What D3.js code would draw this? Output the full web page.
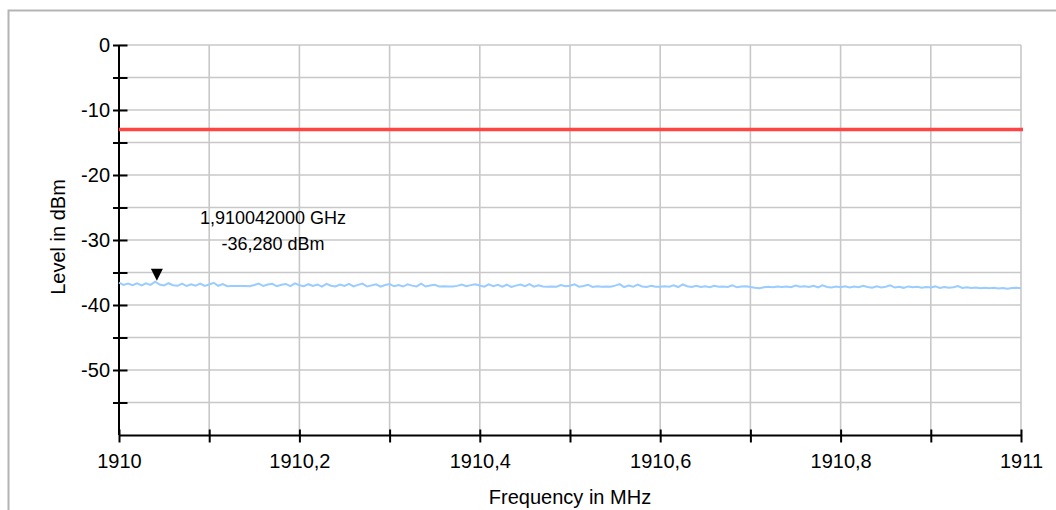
<!DOCTYPE html>
<html>
<head>
<meta charset="utf-8">
<script src="https://cdn.jsdelivr.net/npm/d3@7"></script>
<style>
  body { margin: 0; background: #fff; }
  svg { font-family: "Liberation Sans", Arial, sans-serif; }
</style>
</head>
<body>
<svg id="chart" width="1056" height="510"></svg>
<script>
// sweep 1910..1911 MHz, one reading every 5 kHz
const startFreq = 1910;
const stepFreq = 0.005;
const traceLevels = [
  -36.55, -36.90, -36.70, -36.95, -36.68, -36.98, -36.66, -36.90, -36.42, -36.85,
  -37.00, -36.65, -36.95, -37.05, -36.72, -37.08, -36.80, -37.02, -36.70, -37.06,
  -36.84, -36.58, -37.04, -36.78, -37.10, -37.06, -37.08, -37.09, -37.07, -37.10,
  -36.92, -36.70, -37.08, -36.86, -36.74, -37.12, -36.88, -36.76, -37.10, -36.68,
  -36.96, -37.12, -36.80, -37.06, -36.84, -37.16, -36.76, -37.04, -37.14, -36.86,
  -37.06, -36.74, -37.14, -36.90, -36.70, -37.16, -36.98, -36.82, -37.18, -36.92,
  -36.78, -37.12, -36.94, -37.16, -36.82, -37.02, -37.14, -36.72, -37.16, -37.00,
  -36.90, -37.14, -37.12, -37.15, -37.14, -37.06, -36.86, -37.12, -36.94, -36.80,
  -37.00, -37.18, -36.82, -37.10, -36.90, -37.18, -36.88, -37.22, -37.02, -36.86,
  -37.10, -36.78, -37.18, -36.96, -37.16, -37.20, -37.14, -37.18, -36.92, -37.12,
  -37.04, -36.82, -37.18, -37.08, -36.88, -37.22, -37.10, -37.18, -37.16, -37.20,
  -37.02, -36.78, -37.24, -37.00, -37.20, -36.86, -37.14, -37.24, -37.06, -37.20,
  -37.20, -37.10, -37.18, -36.98, -37.24, -36.84, -37.12, -37.22, -37.06, -37.24,
  -37.12, -37.26, -37.04, -37.20, -37.14, -37.24, -36.98, -37.28, -37.14, -37.10,
  -37.22, -37.34, -37.42, -37.28, -37.20, -37.26, -37.16, -37.24, -37.14, -37.26,
  -37.00, -37.20, -37.10, -37.24, -37.04, -37.28, -36.96, -37.22, -37.32, -37.16,
  -37.26, -37.12, -37.32, -37.16, -37.28, -37.04, -37.22, -37.34, -37.12, -37.30,
  -37.18, -36.98, -37.32, -37.20, -37.36, -37.14, -37.28, -37.20, -37.34, -37.24,
  -37.32, -37.14, -37.38, -37.22, -37.34, -37.28, -37.10, -37.38, -37.28, -37.40,
  -37.30, -37.42, -37.34, -37.44, -37.36, -37.46, -37.38, -37.48, -37.40, -37.36,
  -37.42
];
const limitLevel = -13;
const markerFreq = 1910.042;
const markerLevel = -36.28;
const markerLabels = ["1,910042000 GHz", "-36,280 dBm"];
const xTicks = [1910, 1910.1, 1910.2, 1910.3, 1910.4, 1910.5, 1910.6, 1910.7, 1910.8, 1910.9, 1911];
const xTickLabels = ["1910", "", "1910,2", "", "1910,4", "", "1910,6", "", "1910,8", "", "1911"];
const yTicks = [0, -5, -10, -15, -20, -25, -30, -35, -40, -45, -50, -55];
const yTickLabels = ["0", "", "-10", "", "-20", "", "-30", "", "-40", "", "-50", ""];

const svg = d3.select("#chart");
const x = d3.scaleLinear().domain([1910, 1911]).range([119, 1021]);
const y = d3.scaleLinear().domain([0, -60]).range([45, 435]);

// outer frame
svg.append("rect")
  .attr("x", 8.5).attr("y", 10.5)
  .attr("width", 1200).attr("height", 700)
  .attr("fill", "none").attr("stroke", "#b4b4b4").attr("stroke-width", 2);

// grid
svg.append("g").selectAll("line")
  .data(xTicks.slice(1))
  .join("line")
  .attr("x1", (d) => x(d)).attr("x2", (d) => x(d))
  .attr("y1", y(0)).attr("y2", y(-60))
  .attr("stroke", "#c8c8c8").attr("stroke-width", 1.6);

svg.append("g").selectAll("line")
  .data(yTicks)
  .join("line")
  .attr("x1", x(1910)).attr("x2", x(1911))
  .attr("y1", (d) => y(d)).attr("y2", (d) => y(d))
  .attr("stroke", "#c8c8c8").attr("stroke-width", 1.6);

// y axis
const yAxis = svg.append("g").attr("transform", `translate(${x(1910)},0)`)
  .call(d3.axisLeft(y).tickValues(yTicks).tickFormat((d, i) => yTickLabels[i])
    .tickSizeInner(6).tickSizeOuter(0).tickPadding(4));
yAxis.select(".domain").attr("stroke", "#000").attr("stroke-width", 2)
  .attr("d", `M0,${y(0)}V${y(-60)}`);
yAxis.selectAll(".tick line").attr("x1", -6).attr("x2", 8.5)
  .attr("stroke", "#000").attr("stroke-width", 2);
yAxis.selectAll(".tick text").attr("x", -9).style("font-size", "20px").attr("fill", "#000");

// x axis
const xAxis = svg.append("g").attr("transform", `translate(0,${y(-60)})`)
  .call(d3.axisBottom(x).tickValues(xTicks).tickFormat((d, i) => xTickLabels[i])
    .tickSizeOuter(0));
xAxis.select(".domain").attr("stroke", "#000").attr("stroke-width", 2);
xAxis.selectAll(".tick line").attr("y1", -5.5).attr("y2", 7.5)
  .attr("stroke", "#000").attr("stroke-width", 2);
xAxis.selectAll(".tick text").attr("y", 19).style("font-size", "20px").attr("fill", "#000");

// axis titles
svg.append("text")
  .attr("transform", `translate(65,237) rotate(-90)`)
  .attr("text-anchor", "middle")
  .style("font-size", "20px")
  .text("Level in dBm");

svg.append("text")
  .attr("x", (x(1910) + x(1911)) / 2).attr("y", 504)
  .attr("text-anchor", "middle")
  .style("font-size", "20px")
  .text("Frequency in MHz");

// limit line
svg.append("line")
  .attr("x1", x(1910)).attr("x2", x(1911) + 2)
  .attr("y1", y(limitLevel)).attr("y2", y(limitLevel))
  .attr("stroke", "#ff4444").attr("stroke-width", 3.5);

// measured trace
const line = d3.line()
  .x((d, i) => x(startFreq + i * stepFreq))
  .y((d) => y(d));
svg.append("path")
  .datum(traceLevels)
  .attr("d", line)
  .attr("fill", "none")
  .attr("stroke", "#99ccff")
  .attr("stroke-width", 2);

// marker
const mx = x(markerFreq), my = y(markerLevel);
svg.append("path")
  .attr("d", `M${mx},${my}L${mx - 6},${my - 12}L${mx + 6},${my - 12}Z`)
  .attr("fill", "#000");

svg.append("g").selectAll("text")
  .data(markerLabels)
  .join("text")
  .attr("x", 273)
  .attr("y", (d, i) => 224 + i * 26)
  .attr("text-anchor", "middle")
  .style("font-size", "18px")
  .text((d) => d);
</script>
</body>
</html>
